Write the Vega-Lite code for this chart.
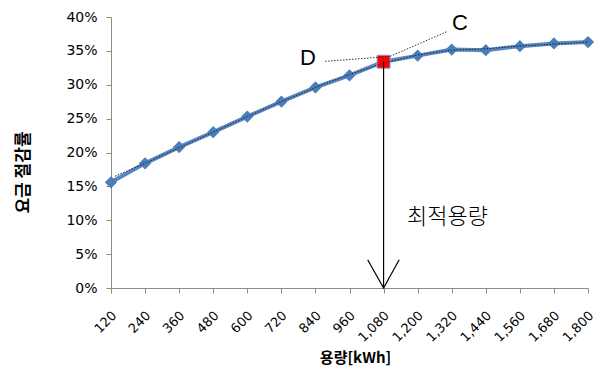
{
  "$schema": "https://vega.github.io/schema/vega-lite/v6.json",
  "width": 477,
  "height": 271,
  "autosize": "none",
  "padding": {"left": 111, "top": 17, "right": 9, "bottom": 84},
  "background": "white",
  "config": {
    "view": {"stroke": null},
    "axis": {
      "grid": false,
      "domainColor": "#8c8c8c",
      "tickColor": "#8c8c8c",
      "tickSize": 5,
      "labelColor": "#000000",
      "labelFont": "DejaVu Sans",
      "titleColor": "#000000",
      "titleFont": "Noto Sans CJK KR"
    }
  },
  "datasets": {
    "savings": [
      {"kwh": 120, "rate": 0.156},
      {"kwh": 240, "rate": 0.184},
      {"kwh": 360, "rate": 0.208},
      {"kwh": 480, "rate": 0.230},
      {"kwh": 600, "rate": 0.253},
      {"kwh": 720, "rate": 0.275},
      {"kwh": 840, "rate": 0.296},
      {"kwh": 960, "rate": 0.314},
      {"kwh": 1080, "rate": 0.334},
      {"kwh": 1200, "rate": 0.343},
      {"kwh": 1320, "rate": 0.352},
      {"kwh": 1440, "rate": 0.351},
      {"kwh": 1560, "rate": 0.357},
      {"kwh": 1680, "rate": 0.361},
      {"kwh": 1800, "rate": 0.363}
    ],
    "trend": [
      {"kwh": 134, "rate": 0.165},
      {"kwh": 240, "rate": 0.184},
      {"kwh": 360, "rate": 0.207},
      {"kwh": 480, "rate": 0.230},
      {"kwh": 600, "rate": 0.253},
      {"kwh": 720, "rate": 0.275},
      {"kwh": 840, "rate": 0.296},
      {"kwh": 960, "rate": 0.315},
      {"kwh": 1080, "rate": 0.332},
      {"kwh": 1200, "rate": 0.344},
      {"kwh": 1320, "rate": 0.351},
      {"kwh": 1440, "rate": 0.353},
      {"kwh": 1560, "rate": 0.357},
      {"kwh": 1680, "rate": 0.360},
      {"kwh": 1800, "rate": 0.363}
    ],
    "tangents": [
      {"name": "D", "kwh": 874, "rate": 0.3345},
      {"name": "D", "kwh": 1103, "rate": 0.3419},
      {"name": "C", "kwh": 1103, "rate": 0.3419},
      {"name": "C", "kwh": 1306, "rate": 0.3789}
    ],
    "optimum": [
      {"kwh": 1080, "rate": 0.334}
    ],
    "arrowShaft": [
      {"kwh": 1080, "top": 0.334, "bottom": 0}
    ],
    "arrowHead": [
      {"kwh": 1024, "rate": 0.0418, "order": 1},
      {"kwh": 1080, "rate": 0.0, "order": 2},
      {"kwh": 1135, "rate": 0.0418, "order": 3}
    ],
    "labels": [
      {"kwh": 814, "rate": 0.339, "text": "D"},
      {"kwh": 1349, "rate": 0.391, "text": "C"}
    ],
    "note": [
      {"kwh": 1305, "rate": 0.1054, "text": "최적용량"}
    ]
  },
  "encoding": {
    "x": {
      "field": "kwh",
      "type": "quantitative",
      "scale": {"domain": [120, 1800], "nice": false, "zero": false},
      "axis": {
        "title": "용량[kWh]",
        "titleFontSize": 15,
        "titleFontWeight": "bold",
        "titleY": 62,
        "titleX": 244,
        "titleBaseline": "top",
        "values": [120, 240, 360, 480, 600, 720, 840, 960, 1080, 1200, 1320, 1440, 1560, 1680, 1800],
        "format": ",d",
        "labelAngle": -45,
        "labelAlign": "right",
        "labelBaseline": "middle",
        "labelPadding": 20,
        "labelOffset": 3,
        "labelFontSize": 13,
        "labelOverlap": false,
        "labelFlush": false
      }
    },
    "y": {
      "field": "rate",
      "type": "quantitative",
      "scale": {"domain": [0, 0.4], "nice": false},
      "axis": {
        "title": "요금 절감률",
        "titleFontSize": 17,
        "titleFontWeight": "bold",
        "titleAngle": -90,
        "titleX": -88,
        "titleY": 155,
        "titleAlign": "center",
        "titleBaseline": "middle",
        "values": [0, 0.05, 0.1, 0.15, 0.2, 0.25, 0.3, 0.35, 0.4],
        "format": ".0%",
        "labelPadding": 9,
        "labelFontSize": 14,
        "labelFlush": false
      }
    }
  },
  "layer": [
    {
      "data": {"name": "savings"},
      "mark": {"type": "line", "color": "#4F81BD", "strokeWidth": 4, "opacity": 0.95}
    },
    {
      "data": {"name": "savings"},
      "mark": {"type": "point", "shape": "diamond", "filled": true, "size": 150, "color": "#4A7EBB", "opacity": 1}
    },
    {
      "data": {"name": "optimum"},
      "mark": {"type": "point", "shape": "square", "filled": true, "size": 169, "color": "#FF0000", "stroke": "#9a9ade", "strokeWidth": 1, "opacity": 1}
    },
    {
      "data": {"name": "trend"},
      "mark": {"type": "line", "color": "#222222", "strokeWidth": 1, "strokeDash": [1.5, 1.5]}
    },
    {
      "data": {"name": "tangents"},
      "mark": {"type": "line", "color": "#333333", "strokeWidth": 1, "strokeDash": [1.5, 1.5]},
      "encoding": {"detail": {"field": "name"}}
    },
    {
      "data": {"name": "arrowShaft"},
      "mark": {"type": "rule", "color": "#000000", "strokeWidth": 1.2},
      "encoding": {
        "y": {"field": "top", "type": "quantitative"},
        "y2": {"field": "bottom"}
      }
    },
    {
      "data": {"name": "arrowHead"},
      "mark": {"type": "line", "color": "#000000", "strokeWidth": 1.2},
      "encoding": {"order": {"field": "order"}}
    },
    {
      "data": {"name": "labels"},
      "mark": {"type": "text", "font": "Liberation Sans", "fontSize": 22, "align": "center", "baseline": "middle", "color": "#000000"},
      "encoding": {"text": {"field": "text"}}
    },
    {
      "data": {"name": "note"},
      "mark": {"type": "text", "font": "Noto Sans CJK KR", "fontSize": 22, "fontWeight": 300, "align": "center", "baseline": "middle", "color": "#000000"},
      "encoding": {"text": {"field": "text"}}
    }
  ]
}
